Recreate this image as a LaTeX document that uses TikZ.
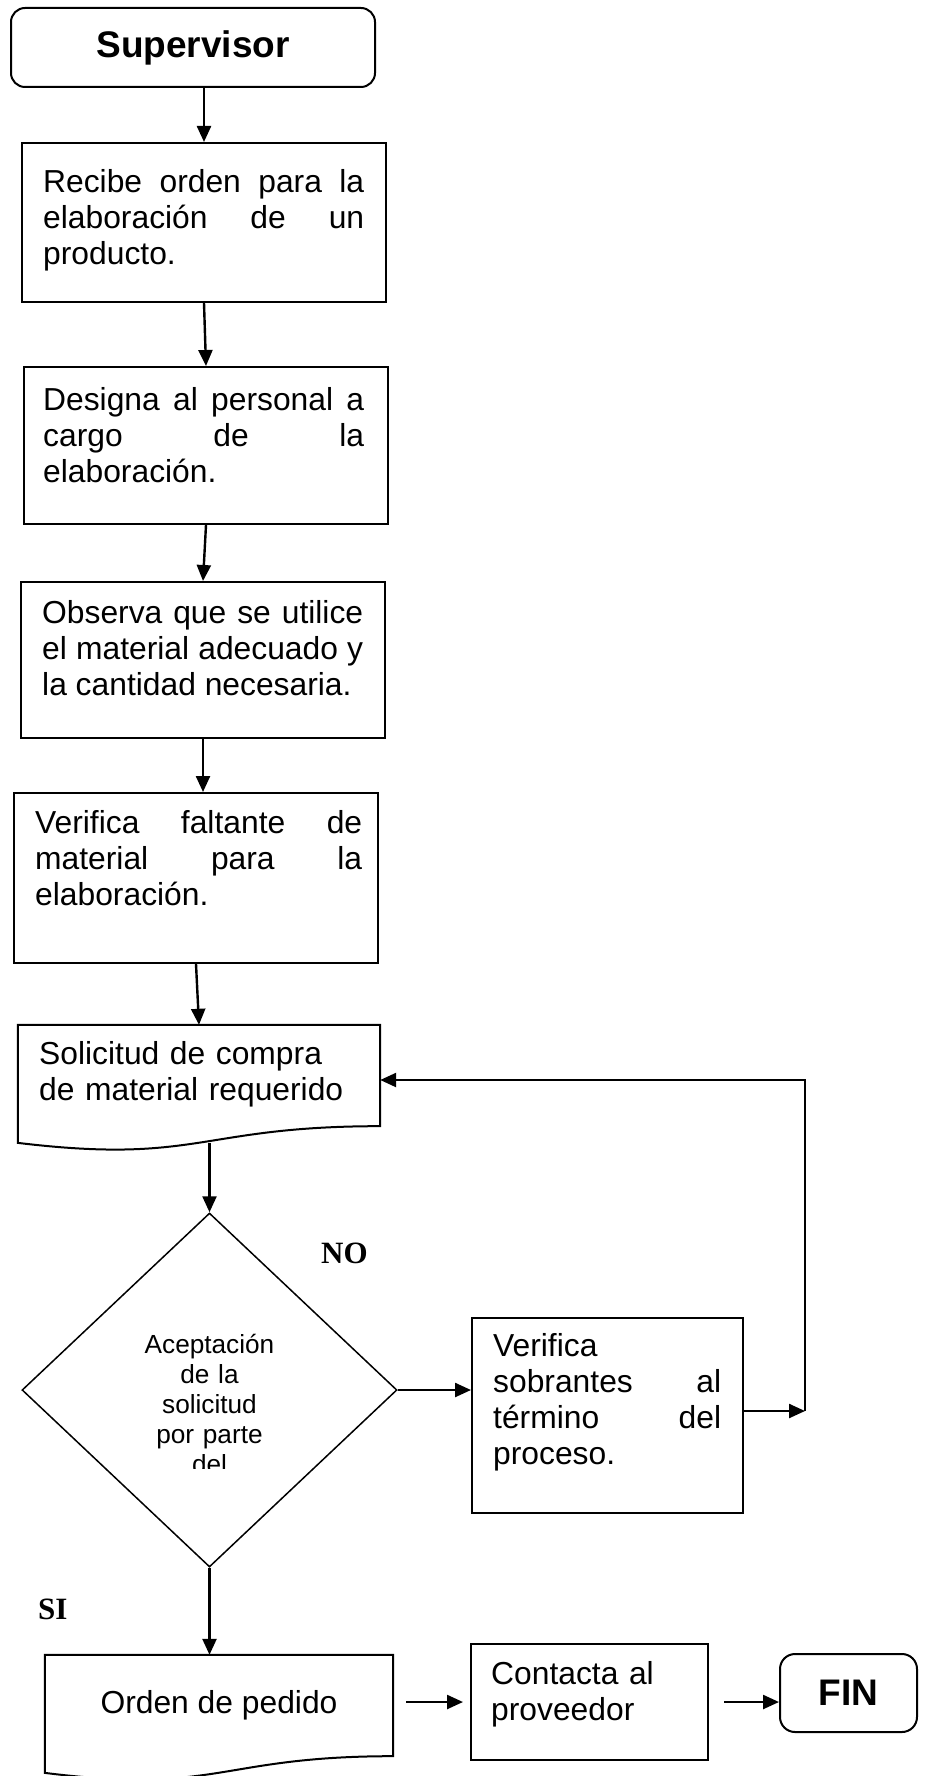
\documentclass[tikz,border=0pt]{standalone}
\usepackage{fontspec}
\setmainfont{Liberation Sans}
\newfontfamily\serifbf{Liberation Serif}
\usetikzlibrary{arrows.meta}
\usetikzlibrary{shapes.geometric}
\usetikzlibrary{fit}
\usetikzlibrary{calc}
\tolerance=10000
\hbadness=10000
\def\txt{\fontsize{31.8}{36}\selectfont}
\def\bigbf{\bfseries\fontsize{37}{40}\selectfont}
% wavy bottom of a document symbol, drawn round an empty node
\newcommand\docframe[1]{%
  \draw[line width=2pt] (#1.north west) -- (#1.north east)
    -- ($(#1.north east)!.802!(#1.south east)$)
    .. controls ($(#1.north)!.802!(#1.south)$) and ($(#1.north)!1.107!(#1.south)$)
    .. ($(#1.north west)!.934!(#1.south west)$) -- cycle;
  \coordinate (#1-b) at ($(#1.north)!.933!(#1.south)$);}

\begin{document}
\begin{tikzpicture}[x=1pt,y=-1pt,
  box/.style={draw, line width=2pt, inner sep=0pt},
  txt/.style={inner sep=0pt, font=\txt, anchor=base west},
  arr/.style={line width=2.4pt, -{Triangle[length=16pt,width=14pt]}}]

  \useasboundingbox (0,0) rectangle (925,1776);

  \coordinate (fb) at (805,1411);
  \coordinate (fb2) at (805,1080);

  \node[box, rounded corners=14pt, minimum width=364pt, minimum height=79pt, font=\bigbf] (sup) at (193,47.5) {Supervisor};

  \node[box, fit={(22,143) (386,302)}] (b1) {};
  \node[txt, text width=321pt, align=justify] (t1) at (43,193) {Recibe orden para la\linebreak elaboración de un\linebreak producto.};

  \node[box, fit={(24,367) (388,524)}] (b2) {};
  \node[txt, text width=321pt, align=justify] (t2) at (43,410) {Designa al personal a\linebreak cargo de la\linebreak elaboración.};

  \node[box, fit={(21,582) (385,738)}] (b3) {};
  \node[txt, text width=321pt, align=justify] (t3) at (42,623) {Observa que se utilice\linebreak el material adecuado y\linebreak la cantidad necesaria.};

  \node[box, fit={(14,793) (378,963)}] (b4) {};
  \node[txt, text width=327pt, align=justify] (t4) at (35,833) {Verifica faltante de\linebreak material para la\linebreak elaboración.};

  \node[inner sep=0pt, fit={(18,1025) (380,1151)}] (sol) {};
  \docframe{sol}
  \node[txt, text width=330pt, align=left] (tsol) at (39,1064) {Solicitud de compra\\de material requerido};

  \node[draw, diamond, line width=1.5pt, inner sep=0pt, minimum width=375pt, minimum height=354pt] (dec) at (209.5,1390) {};
  \begin{scope}
    \clip (100,1300) rectangle (320,1468);
    \node[inner sep=0pt, font=\fontsize{26.2}{30}\selectfont, text width=180pt, align=center, anchor=base] (tdec) at (209.5,1353) {Aceptación\\de la\\solicitud\\por parte\\del};
  \end{scope}

  \node[box, fit={(472,1318) (743,1513)}] (ver) {};
  \node[txt, text width=228pt, align=justify] (tver) at (493,1356) {Verifica\\sobrantes al\linebreak término del\linebreak proceso.};

  \node[inner sep=0pt, fit={(45,1655) (393,1781)}] (ord) {};
  \docframe{ord}
  \node[txt, anchor=base] (tord) at (219,1713) {Orden de pedido};

  \node[box, fit={(471,1644) (708,1760)}] (con) {};
  \node[txt, text width=210pt, align=left] (tcon) at (491,1684) {Contacta al\\proveedor};

  \node[box, rounded corners=15pt, minimum width=137pt, minimum height=78pt, font=\bigbf] (fin) at (848.5,1693) {FIN};

  \node[inner sep=0pt, anchor=base west, font=\serifbf\bfseries\fontsize{31}{31}\selectfont] (no) at (321,1263) {NO};
  \node[inner sep=0pt, anchor=base west, font=\serifbf\bfseries\fontsize{31}{31}\selectfont] (si) at (38,1619) {SI};

  \draw[arr] (sup.south -| b1.north) -- (b1.north);
  \draw[arr] (b1.south) -- (b2.north);
  \draw[arr] (b2.south) -- (b3.north);
  \draw[arr] (b3.south) -- (b3.south |- b4.north);
  \draw[arr] (b4.south) -- (sol.north);
  \draw[arr] (dec.north |- sol-b) -- (dec.north);

  \draw[arr] (dec.east) -- (dec.east -| ver.west);
  \draw[arr] (fb -| ver.east) -- (fb);
  \draw[arr] (fb) -- (fb2) -- (fb2 -| sol.east); % back to the request

  \draw[arr] (dec.south) -- (dec.south |- ord.north);
  \draw[arr, shorten <=13pt, shorten >=7pt] (con.west -| ord.east) -- (con.west);
  \draw[arr, shorten <=15pt] (con.east) -- (con.east -| fin.west);
\end{tikzpicture}
\end{document}
